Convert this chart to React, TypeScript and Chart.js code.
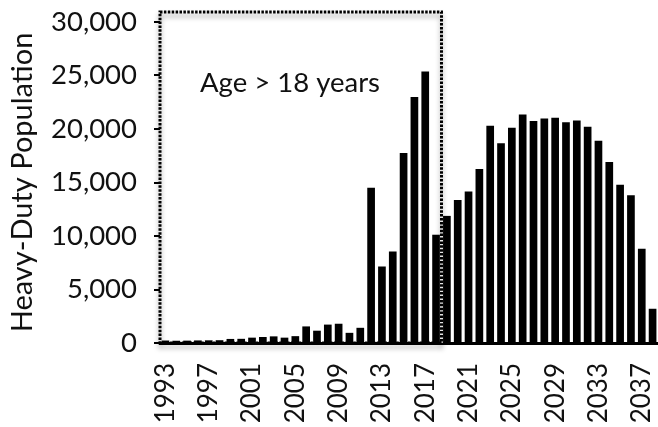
import React, { useEffect, useRef } from "react";
import { Chart, registerables } from "chart.js";

Chart.register(...registerables);

const years: string[] = [
  "1993","1994","1995","1996","1997","1998","1999","2000","2001","2002",
  "2003","2004","2005","2006","2007","2008","2009","2010","2011","2012",
  "2013","2014","2015","2016","2017","2018","2019","2020","2021","2022",
  "2023","2024","2025","2026","2027","2028","2029","2030","2031","2032",
  "2033","2034","2035","2036","2037","2038",
];

const population: number[] = [
  230, 210, 220, 240, 250, 260, 380, 390, 500, 560,
  620, 500, 640, 1550, 1150, 1720, 1800, 950, 1420, 14520,
  7150, 8550, 17750, 22980, 25380, 10120, 11880, 13370, 14150, 16260,
  20300, 18660, 20120, 21360, 20740, 20990, 21060, 20640, 20800, 20210,
  18900, 16920, 14800, 13800, 8800, 3200,
];

const yTicksMax = 30000;
const yTickStep = 5000;
const labelEvery = 4;
const boxLastYear = "2018";
const boxLabel = "Age > 18 years";
const boxLabelValue = 23500;
const yTitle = "Heavy-Duty Population";

const FONT = "Lato, 'Noto Sans', sans-serif";
const TEXT = "#111111";

const boxPlugin = {
  id: "ageBox",
  afterDatasetsDraw(chart: any) {
    const { ctx, chartArea, scales } = chart;
    const x = scales.x;
    const y = scales.y;
    const idx = years.indexOf(boxLastYear);
    const half = (x.getPixelForValue(1) - x.getPixelForValue(0)) / 2;
    const left = chartArea.left;
    const right = x.getPixelForValue(idx) + half;
    const top = chartArea.top - 10;
    const bottom = chartArea.bottom;

    ctx.save();
    ctx.strokeStyle = "#ffffff";
    ctx.lineWidth = 3;
    ctx.beginPath();
    ctx.moveTo(right, top);
    ctx.lineTo(right, bottom);
    ctx.stroke();

    ctx.shadowColor = "rgba(0,0,0,0.4)";
    ctx.shadowBlur = 5;
    ctx.shadowOffsetY = 4;
    ctx.strokeStyle = "#000000";
    ctx.lineWidth = 3;
    ctx.setLineDash([2.5, 1.4]);
    ctx.beginPath();
    ctx.rect(left, top, right - left, bottom - top);
    ctx.stroke();
    ctx.restore();

    ctx.save();
    ctx.fillStyle = TEXT;
    ctx.font = `27.5px ${FONT}`;
    ctx.textAlign = "left";
    ctx.textBaseline = "alphabetic";
    ctx.fillText(boxLabel, left + 40, y.getPixelForValue(boxLabelValue));
    ctx.restore();
  },
};

export default function App() {
  const ref = useRef<HTMLCanvasElement | null>(null);

  useEffect(() => {
    if (!ref.current) return;
    const chart = new Chart(ref.current, {
      type: "bar",
      data: {
        labels: years,
        datasets: [
          {
            data: population,
            backgroundColor: "#000000",
            borderWidth: 0,
            barPercentage: 0.71,
            categoryPercentage: 1,
          },
        ],
      },
      options: {
        animation: false,
        responsive: false,
        locale: "en-US",
        layout: { padding: { top: 22, left: 0, right: 0, bottom: 0 } },
        plugins: {
          legend: { display: false },
          tooltip: { enabled: false },
        },
        scales: {
          x: {
            grid: { display: false, drawTicks: false },
            border: { display: true, color: "#000000", width: 3 },
            ticks: {
              autoSkip: false,
              maxRotation: 90,
              minRotation: 90,
              padding: 20,
              color: TEXT,
              font: { family: FONT, size: 26 },
              callback: (_v: any, i: number) => (i % labelEvery === 0 ? years[i] : ""),
            },
            afterFit: (scale: any) => {
              scale.height = 84;
              scale.paddingLeft = 0;
              scale.paddingRight = 0;
            },
          },
          y: {
            min: 0,
            max: yTicksMax,
            grid: {
              drawOnChartArea: false,
              drawTicks: true,
              tickLength: 6,
              color: "#000000",
              lineWidth: 2,
            },
            border: { display: false },
            ticks: {
              stepSize: yTickStep,
              padding: 17,
              color: TEXT,
              font: { family: FONT, size: 27.5 },
            },
            title: {
              display: true,
              text: yTitle,
              color: TEXT,
              font: { family: FONT, size: 29 },
              padding: { top: 5, bottom: 0 },
            },
            afterFit: (scale: any) => {
              scale.width = 160;
              scale.paddingTop = 0;
              scale.paddingBottom = 0;
            },
          },
        },
      },
      plugins: [boxPlugin],
    });
    return () => chart.destroy();
  }, []);

  return (
    <div style={{ position: "absolute", left: 0, top: 0, width: 658, height: 427 }}>
      <canvas ref={ref} width={658} height={427} style={{ display: "block" }} />
    </div>
  );
}
